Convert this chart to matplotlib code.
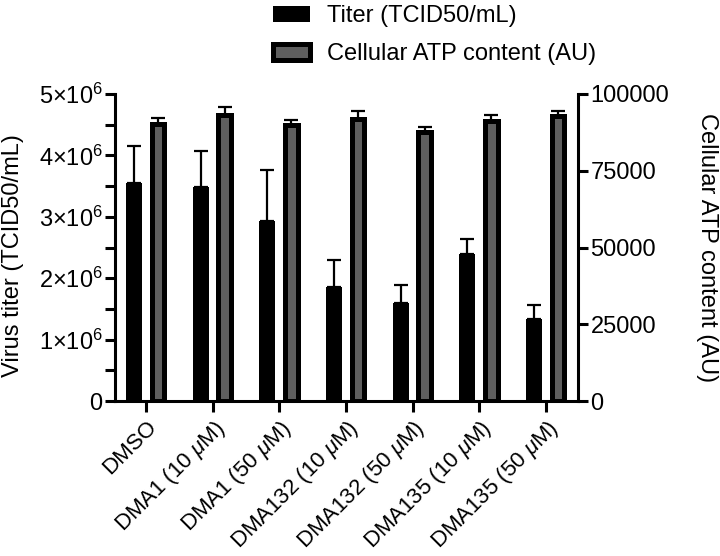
import numpy as np
import matplotlib
matplotlib.use("Agg")
import matplotlib.pyplot as plt
import matplotlib.transforms as mtransforms
from matplotlib.ticker import MultipleLocator, FixedLocator

plt.rcParams['font.family'] = ['Liberation Sans', 'DejaVu Sans']
plt.rcParams['mathtext.fontset'] = 'custom'
plt.rcParams['mathtext.rm'] = 'Liberation Sans'
plt.rcParams['mathtext.it'] = 'Liberation Sans:italic'
plt.rcParams['mathtext.bf'] = 'Liberation Sans:bold'

categories = ["DMSO", r"DMA1 (10 $\mathit{\mu}$M)", r"DMA1 (50 $\mathit{\mu}$M)",
              r"DMA132 (10 $\mathit{\mu}$M)", r"DMA132 (50 $\mathit{\mu}$M)",
              r"DMA135 (10 $\mathit{\mu}$M)", r"DMA135 (50 $\mathit{\mu}$M)"]
titer = [3.55e6, 3.49e6, 2.93e6, 1.85e6, 1.60e6, 2.39e6, 1.34e6]
titer_err = [0.60e6, 0.58e6, 0.83e6, 0.45e6, 0.29e6, 0.25e6, 0.23e6]
atp = [90300, 93300, 89800, 92000, 87700, 91100, 92900]
atp_err = [1800, 2500, 1700, 2300, 1600, 2200, 1700]
left_ticks = [0, 1e6, 2e6, 3e6, 4e6, 5e6]
left_ticklabels = ["0", r"1×10$^{6}$", r"2×10$^{6}$", r"3×10$^{6}$", r"4×10$^{6}$", r"5×10$^{6}$"]
right_ticks = [0, 25000, 50000, 75000, 100000]
right_ticklabels = ["0", "25000", "50000", "75000", "100000"]

FS = 17
GRAY = '#5e5e5e'

fig = plt.figure(figsize=(7.2, 5.56), dpi=100)
ax = fig.add_axes([115/720, 1-401/556, (578-115)/720, (401-94)/556])
ax2 = ax.twinx()

x = np.arange(len(categories))
off = 0.18
zeros = np.zeros(len(x))
b1 = ax.bar(x - off, titer, width=0.24, color='black', edgecolor='black', linewidth=0,
            yerr=[zeros, titer_err], error_kw=dict(ecolor='black', elinewidth=1.6,
                                                   capsize=5, capthick=1.6),
            label='Titer (TCID50/mL)', zorder=3)
b2 = ax2.bar(x + off, atp, width=0.19, color=GRAY, edgecolor='black', linewidth=3.6,
             yerr=[zeros, atp_err], error_kw=dict(ecolor='black', elinewidth=1.6,
                                                  capsize=5, capthick=1.6),
             label='Cellular ATP content (AU)', zorder=3)

ax.set_xlim(-0.465, 6.48)
ax.set_ylim(0, 5e6)
ax2.set_ylim(0, 100000)

ax.yaxis.set_major_locator(FixedLocator(left_ticks))
ax.set_yticklabels(left_ticklabels, fontsize=FS)
ax.yaxis.set_minor_locator(MultipleLocator(0.5e6))
ax2.yaxis.set_major_locator(FixedLocator(right_ticks))
ax2.set_yticklabels(right_ticklabels, fontsize=FS)

ax.set_xticks(x)
ax.set_xticklabels(categories, fontsize=16, rotation=45, ha='right', va='top',
                   rotation_mode='anchor')
offset = mtransforms.ScaledTranslation(-1/100, 9/100, fig.dpi_scale_trans)
for lab in ax.get_xticklabels():
    lab.set_transform(lab.get_transform() + offset)

for a in (ax, ax2):
    for s in a.spines.values():
        s.set_linewidth(2.2)
    a.spines['top'].set_visible(False)
ax.spines['right'].set_visible(False)
ax2.spines['left'].set_visible(False)
ax2.spines['bottom'].set_visible(False)

ax.tick_params(axis='both', which='major', direction='out', length=7, width=2.2, pad=2)
ax.tick_params(axis='y', which='minor', direction='out', length=7, width=2.2)
ax.tick_params(axis='x', which='major', length=8, pad=3)
ax2.tick_params(axis='y', which='major', direction='out', length=7, width=2.2, pad=2)

ax.set_ylabel("Virus titer (TCID50/mL)", fontsize=FS, va='center')
ax.yaxis.set_label_coords(-0.221, 0.475)
ax2.set_ylabel("Cellular ATP content (AU)", fontsize=FS, rotation=270, va='center')
ax2.yaxis.set_label_coords(1.279, 0.5)

leg = fig.legend(handles=[b1, b2], loc='upper left', bbox_to_anchor=(273/720, 1-5/556),
                 frameon=False, fontsize=FS, borderpad=0, borderaxespad=0,
                 handlelength=1.55, handleheight=0.68, handletextpad=0.75,
                 labelspacing=0.68)

fig.savefig("out.png", dpi=100)
